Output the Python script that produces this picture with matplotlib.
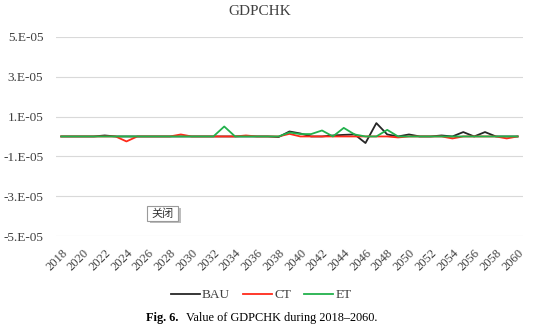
#!/usr/bin/env python3
"""Value of GDPCHK during 2018-2060: BAU / CT / ET line chart."""

import numpy as np
import matplotlib
matplotlib.use('Agg')
import matplotlib.pyplot as plt
from matplotlib.patches import Rectangle
from matplotlib.offsetbox import TextArea, HPacker, AnnotationBbox

YEARS = list(range(2018, 2061))

# values in units of 1e-6
BAU = [0, 0, 0, 0, 0.5, 0, 0, 0, 0, 0,
       0, 0, 0, 0, 0, 0, 0, 0, 0, 0,
       -0.3, 2.5, 1.5, 0, 0, 0.5, 0.8, 1.0, -3.3, 6.7,
       1.0, 0, 1.0, 0, 0, 0.5, 0, 2.2, 0, 2.2,
       0, 0, 0]
CT = [0, 0, 0, 0, 0, 0, -2.5, 0, 0, 0,
      0, 1.0, 0, 0, 0, 0, 0, 0.5, 0, 0,
      0, 1.3, 0, 0, 0, 0, 0, 0, 0, 0,
      0, -0.5, 0, 0, 0, 0, -1.0, 0, 0, 0,
      0, -1.0, 0]
ET = [0, 0, 0, 0, 0, 0, 0, 0, 0, 0,
      0, 0, 0, 0, 0, 5.0, 0, 0, 0, 0,
      0, 2.0, 1.2, 1.2, 3.0, 0, 4.3, 1.0, 0, 0,
      3.3, 0, 0, 0, 0, 0, 0, 0, 0, 0,
      0, 0, 0]

SERIES = [('BAU', BAU, '#262626'), ('CT', CT, '#ff2a1a'), ('ET', ET, '#22b14c')]
Y_TICKS = [5e-5, 3e-5, 1e-5, -1e-5, -3e-5, -5e-5]

plt.rcParams['font.family'] = ['Liberation Serif', 'DejaVu Serif']

fig = plt.figure(figsize=(5.42, 3.32), dpi=100)
ax = fig.add_axes([0.103, 0.289, 0.862, 0.6])

x = np.arange(len(YEARS))
for name, vals, color in SERIES:
    ax.plot(x, np.array(vals) * 1e-6, color=color, lw=1.3, label=name)

ax.set_xlim(-0.5, len(YEARS) - 0.5)
ax.set_ylim(-5e-5, 5e-5)
ax.set_yticks(Y_TICKS)
ax.set_yticklabels([f'{int(round(v * 1e5))}.E-05' for v in Y_TICKS],
                   fontsize=9.5, color='#404040')
ax.set_xticks(x[::2])
ax.set_xticklabels([str(y) for y in YEARS[::2]], rotation=45, ha='right',
                   va='top', rotation_mode='anchor', fontsize=9,
                   color='#404040')
ax.tick_params(axis='both', length=0)
ax.tick_params(axis='y', pad=9)
ax.tick_params(axis='x', pad=8)
ax.grid(axis='y', color='#d9d9d9', lw=0.8)
ax.set_axisbelow(True)
for s in ax.spines.values():
    s.set_visible(False)

fig.text(0.479, 0.966, 'GDPCHK', ha='center', va='center', fontsize=11,
         color='#404040')

fig.legend(loc='center', bbox_to_anchor=(0.482, 0.111), ncol=3,
           frameon=False, fontsize=9.5, handlelength=2.2, handletextpad=0.15,
           columnspacing=1.0, labelcolor='#404040')

# leftover UI button from the screenshot
fig.add_artist(Rectangle((0.276, 0.327), 0.058, 0.047,
                         transform=fig.transFigure, facecolor='#bdbdbd',
                         edgecolor='none'))
fig.add_artist(Rectangle((0.271, 0.333), 0.057, 0.046,
                         transform=fig.transFigure, facecolor='white',
                         edgecolor='#9a9a9a', lw=0.8))
fig.text(0.2995, 0.356, '关闭', ha='center', va='center', fontsize=8,
         family=['Noto Sans CJK SC', 'DejaVu Sans'], color='#333333')

cap = HPacker(children=[
    TextArea('Fig. 6.', textprops=dict(fontsize=8.8, fontweight='bold')),
    TextArea('Value of GDPCHK during 2018–2060.',
             textprops=dict(fontsize=8.8)),
], align='baseline', pad=0, sep=5)
fig.add_artist(AnnotationBbox(cap, (0.483, 0.043), xycoords='figure fraction',
                              frameon=False, box_alignment=(0.5, 0.5)))

fig.savefig('out.png', dpi=100)
